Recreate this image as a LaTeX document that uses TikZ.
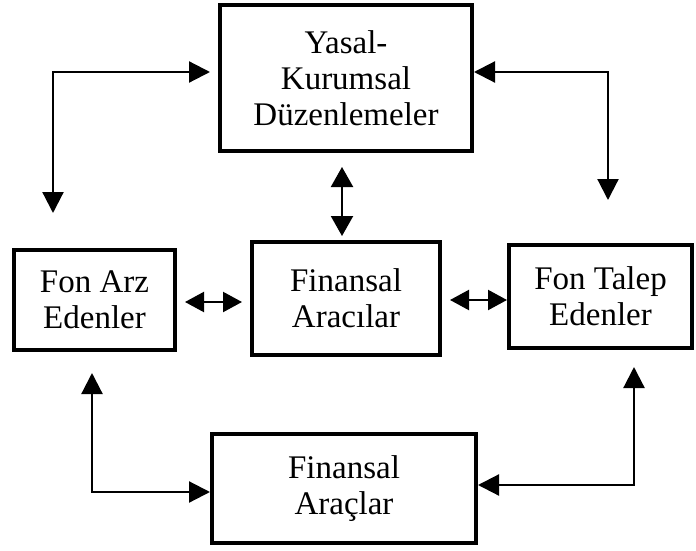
\documentclass[tikz,border=0pt]{standalone}
\usepackage{fontspec}
\setmainfont{Liberation Serif}
\usetikzlibrary{arrows.meta}
\tikzset{
  box/.style={draw, line width=4pt, align=center, inner sep=0pt,
    font=\fontsize{33}{36}\selectfont},
  conn/.style={line width=2.2pt, line join=miter,
    {Triangle[length=21pt,width=21pt]}-{Triangle[length=21pt,width=21pt]}},
  dbl/.style={line width=2.2pt,
    {Triangle[length=19pt,width=20pt]}-{Triangle[length=19pt,width=20pt]}},
}
\begin{document}
\begin{tikzpicture}[x=1pt,y=-1pt]
\useasboundingbox (0,0) rectangle (696,551);
\node[box, minimum width=252pt, minimum height=146pt] (yasal) at (346,78) {Yasal-\\Kurumsal\\Düzenlemeler};
\node[box, minimum width=161pt, minimum height=100pt] (fonarz) at (94.5,300) {Fon Arz\\Edenler};
\node[box, minimum width=188pt, minimum height=113pt] (aracilar) at (346,298.5) {Finansal\\Aracılar};
\node[box, minimum width=183pt, minimum height=103pt] (fontalep) at (600.5,296.5) {Fon Talep\\Edenler};
\node[box, minimum width=264pt, minimum height=109pt] (araclar) at (344,488.5) {Finansal\\Araçlar};
% top-left
\coordinate (tlc) at (53,72);
\coordinate (tla) at (210,72);
\coordinate (tlb) at (53,213);
\draw[conn] (tla) -- (tlc) -- (tlb);
% top-right
\coordinate (trc) at (608,72);
\coordinate (trb) at (608,200);
\draw[conn] (yasal.east |- trc) -- (trc) -- (trb);
% middle vertical
\coordinate (mv1) at (342,167);
\coordinate (mv2) at (342,236);
\draw[dbl, {Triangle[length=20pt,width=22pt]}-{Triangle[length=20pt,width=22pt]}] (mv1) -- (mv2);
% horizontal doubles
\coordinate (lh1) at (185,302);
\coordinate (lh2) at (242,302);
\draw[dbl] (lh1) -- (lh2);
\coordinate (rh1) at (450,300);
\draw[dbl] (rh1) -- (fontalep.west |- rh1);
% bottom-left
\coordinate (blt) at (92,373);
\coordinate (blc) at (92,492);
\draw[conn] (blt) -- (blc) -- (araclar.west |- blc);
% bottom-right
\coordinate (brt) at (634,367);
\coordinate (brc) at (634,485);
\draw[conn] (brt) -- (brc) -- (araclar.east |- brc);
\end{tikzpicture}
\end{document}
